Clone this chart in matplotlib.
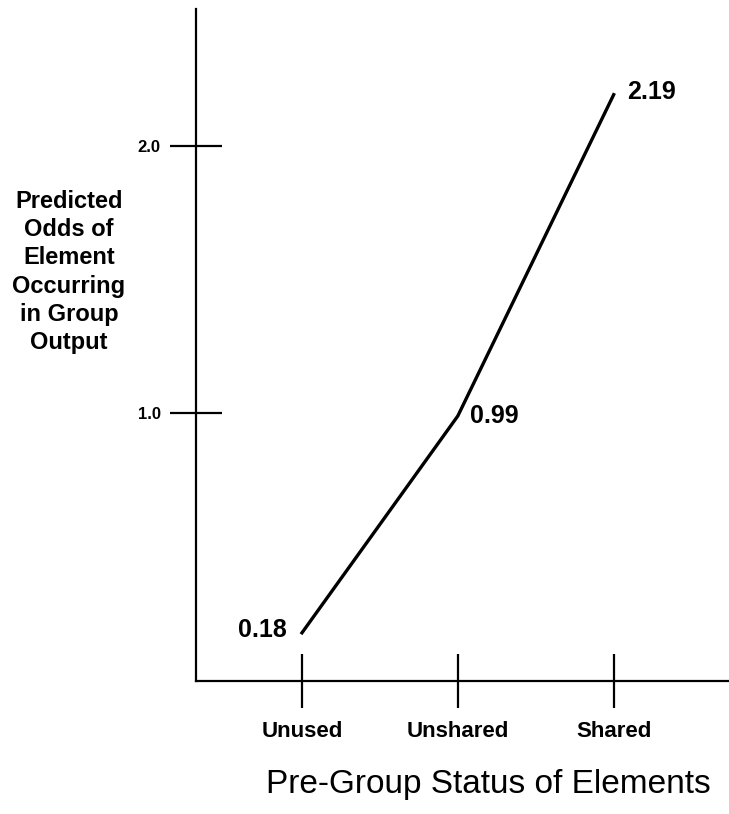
import matplotlib
matplotlib.use("Agg")
import matplotlib.pyplot as plt

categories = ["Unused", "Unshared", "Shared"]
odds = [0.18, 0.99, 2.19]
odds_labels = ["0.18", "0.99", "2.19"]
yticks = [1.0, 2.0]
ytick_labels = ["1.0", "2.0"]

plt.rcParams['font.family'] = ['Liberation Sans', 'DejaVu Sans']

fig = plt.figure(figsize=(7.29, 8.14), dpi=100)
ax = fig.add_axes([196/729, 133/814, 1 - 196/729, (681-9)/814])

x = list(range(len(categories)))
ax.plot(x, odds, color='black', linewidth=2.4, solid_joinstyle='round')

# value labels
offsets = [(-11, 2, 'right'), (9, 0, 'left'), (10, 2, 'left')]
for xi, yi, lab, (dx, dy, ha) in zip(x, odds, odds_labels, offsets):
    ax.annotate(lab, (xi, yi), xytext=(dx, dy), textcoords='offset points',
                ha=ha, va='center', fontsize=18, fontweight='bold')

ax.set_xlim(-0.68, 2.74)
ax.set_ylim(0, 2.51)

ax.set_xticks(x)
ax.set_xticklabels(categories, fontsize=16, fontweight='bold')
ax.set_yticks(yticks)
ax.set_yticklabels(ytick_labels, fontsize=12, fontweight='bold')

ax.tick_params(axis='y', direction='inout', length=37, width=1.6, pad=7)
ax.tick_params(axis='x', direction='inout', length=39, width=1.6, pad=9)

for s in ['top', 'right']:
    ax.spines[s].set_visible(False)
for s in ['left', 'bottom']:
    ax.spines[s].set_linewidth(1.6)

ax.set_xlabel("Pre-Group Status of Elements", fontsize=24, labelpad=20)
ax.xaxis.label.set_x(0.548)

fig.text(69/729, 1 - 272/814,
         "Predicted\nOdds of\nElement\nOccurring\nin Group\nOutput",
         ha='center', va='center', multialignment='center', fontsize=17,
         fontweight='bold', linespacing=1.3)

fig.savefig("out.png", dpi=100)
